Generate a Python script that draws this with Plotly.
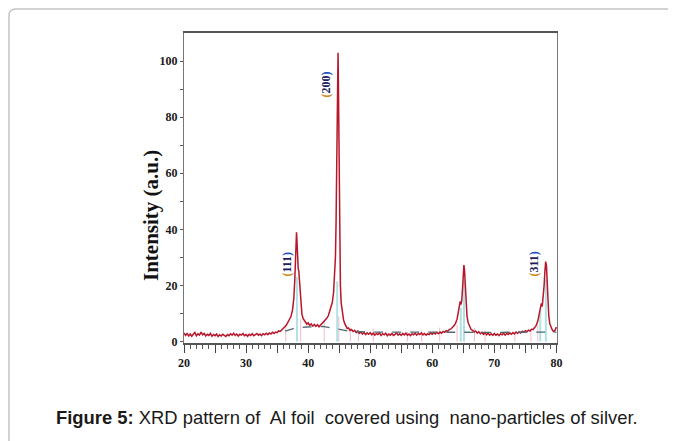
import plotly.graph_objects as go

# ---------------- data ----------------
two_theta = [
    20.0, 20.25, 20.5, 20.75, 21.0, 21.25, 21.5, 21.75, 22.0, 22.25, 22.5, 22.75,
    23.0, 23.25, 23.5, 23.75, 24.0, 24.25, 24.5, 24.75, 25.0, 25.25, 25.5, 25.75,
    26.0, 26.25, 26.5, 26.75, 27.0, 27.25, 27.5, 27.75, 28.0, 28.25, 28.5, 28.75,
    29.0, 29.25, 29.5, 29.75, 30.0, 30.25, 30.5, 30.75, 31.0, 31.25, 31.5, 31.75,
    32.0, 32.25, 32.5, 32.75, 33.0, 33.25, 33.5, 33.75, 34.0, 34.25, 34.5, 34.75,
    35.0, 35.25, 35.5, 35.75, 36.0, 36.25, 36.5, 36.75, 37.0, 37.25, 37.5, 37.7,
    37.85, 37.95, 38.05, 38.13, 38.2, 38.3, 38.4, 38.5, 38.6, 38.7, 38.85, 39.0,
    39.2, 39.4, 39.6, 39.8, 40.0, 40.25, 40.5, 40.75, 41.0, 41.25, 41.5, 41.75,
    42.0, 42.25, 42.5, 42.75, 43.0, 43.25, 43.5, 43.7, 43.9, 44.1, 44.25, 44.4,
    44.5, 44.6, 44.68, 44.75, 44.82, 44.88, 44.95, 45.02, 45.1, 45.2, 45.32, 45.5,
    45.7, 45.9, 46.1, 46.3, 46.5, 46.75, 47.0, 47.25, 47.5, 47.75, 48.0, 48.25,
    48.5, 48.75, 49.0, 49.25, 49.5, 49.75, 50.0, 50.25, 50.5, 50.75, 51.0, 51.25,
    51.5, 51.75, 52.0, 52.25, 52.5, 52.75, 53.0, 53.25, 53.5, 53.75, 54.0, 54.25,
    54.5, 54.75, 55.0, 55.25, 55.5, 55.75, 56.0, 56.25, 56.5, 56.75, 57.0, 57.25,
    57.5, 57.75, 58.0, 58.25, 58.5, 58.75, 59.0, 59.25, 59.5, 59.75, 60.0, 60.25,
    60.5, 60.75, 61.0, 61.25, 61.5, 61.75, 62.0, 62.25, 62.5, 62.75, 63.0, 63.25,
    63.5, 63.75, 64.0, 64.2, 64.35, 64.5, 64.62, 64.75, 64.88, 65.0, 65.1, 65.2,
    65.32, 65.45, 65.6, 65.8, 66.0, 66.25, 66.5, 66.75, 67.0, 67.25, 67.5, 67.75,
    68.0, 68.25, 68.5, 68.75, 69.0, 69.25, 69.5, 69.75, 70.0, 70.25, 70.5, 70.75,
    71.0, 71.25, 71.5, 71.75, 72.0, 72.25, 72.5, 72.75, 73.0, 73.25, 73.5, 73.75,
    74.0, 74.25, 74.5, 74.75, 75.0, 75.25, 75.5, 75.75, 76.0, 76.25, 76.5, 76.75,
    77.0, 77.2, 77.4, 77.58, 77.72, 77.88, 78.02, 78.15, 78.28, 78.4, 78.5, 78.62,
    78.78, 78.95, 79.15, 79.35, 79.55, 79.75, 79.9, 80.0,
]
intensity = [
    3.1, 2.2, 2.9, 2.0, 2.7, 1.9, 2.6, 3.3, 2.1, 2.8, 2.3, 3.4,
    2.4, 2.9, 2.0, 2.6, 2.2, 2.9, 1.9, 2.5, 2.1, 2.7, 1.8, 2.4,
    2.0, 2.6, 2.2, 1.8, 2.5, 2.1, 2.8, 2.3, 3.0, 2.2, 2.7, 2.0,
    2.6, 2.3, 2.9, 2.1, 2.5, 1.9, 2.6, 2.2, 2.8, 2.1, 2.5, 2.9,
    2.3, 2.7, 2.1, 2.8, 2.4, 3.0, 2.5, 3.1, 2.7, 3.3, 2.9, 3.4,
    3.2, 3.8, 3.6, 4.3, 4.6, 5.3, 5.9, 6.8, 7.6, 9.0, 11.5, 15.5,
    22.0, 30.0, 37.0, 39.0, 36.0, 29.0, 26.0, 25.0, 22.0, 17.0, 12.5, 9.8,
    8.2, 7.3, 6.9, 6.2, 6.7, 5.8, 6.3, 5.5, 6.1, 5.4, 6.0, 5.3,
    5.9, 6.4, 7.0, 7.4, 8.3, 9.2, 10.8, 12.4, 14.0, 17.5, 22.0, 30.0,
    42.0, 64.0, 88.0, 102.0, 103.0, 92.0, 68.0, 45.0, 30.0, 20.0, 14.0, 10.0,
    7.8, 6.4, 5.4, 4.7, 4.9, 4.0, 4.3, 3.6, 4.0, 3.2, 3.7, 2.9,
    3.4, 2.7, 3.3, 2.5, 3.1, 2.6, 3.2, 2.4, 3.0, 2.3, 2.9, 2.5,
    3.1, 2.2, 2.8, 2.4, 3.0, 2.1, 2.7, 2.3, 2.9, 2.2, 2.6, 3.1,
    2.3, 2.8, 2.2, 2.9, 2.4, 3.0, 2.3, 2.7, 2.1, 2.8, 2.4, 3.0,
    2.3, 2.9, 2.5, 3.1, 2.4, 2.9, 2.3, 2.8, 2.5, 3.1, 2.6, 3.2,
    2.7, 3.3, 2.8, 3.4, 3.0, 3.6, 3.3, 3.9, 3.7, 4.3, 4.5, 5.0,
    5.6, 6.5, 8.0, 10.5, 13.0, 14.3, 13.2, 14.5, 19.0, 24.5, 27.3, 25.5,
    19.0, 13.0, 9.0, 6.6, 5.3, 4.4, 4.0, 3.4, 3.8, 3.0, 3.5, 2.8,
    3.3, 2.6, 3.1, 2.4, 3.0, 2.3, 2.8, 2.2, 2.9, 2.3, 2.7, 2.1,
    2.8, 2.4, 3.0, 2.3, 2.9, 2.5, 3.1, 2.6, 3.2, 2.7, 3.4, 2.9,
    3.5, 3.1, 3.7, 3.3, 3.9, 3.5, 4.1, 3.8, 4.4, 4.3, 5.0, 5.8,
    7.2, 9.2, 12.0, 13.6, 12.5, 15.5, 20.0, 25.0, 28.5, 27.0, 21.0, 14.0,
    9.0, 6.3, 4.9, 4.1, 3.6, 3.9, 4.6, 5.2,
]

# fitted background (dashed)
bg_theta = [36.3, 37.6, 39.7, 42.4, 44.5, 46.7, 50.0, 60.0, 70.0, 80.0]
bg_int = [3.7, 4.6, 5.2, 5.4, 4.6, 3.7, 3.4, 3.3, 3.3, 3.4]

# reference sticks (Ag / Al phases)
cyan_pos = [38.2, 44.68, 64.6, 65.12, 77.4, 78.3]
cyan_h = [23.0, 21.4, 12.0, 22.0, 11.0, 22.0]
pink_pos = [36.4, 38.8, 42.6, 44.95, 46.8, 48.1, 50.5, 56.0, 58.3, 61.2, 64.0, 66.8, 68.5, 73.3, 75.9, 77.0]
pink_h = [6.0, 8.0, 7.5, 9.0, 5.0, 4.0, 4.5, 3.5, 4.0, 5.0, 6.0, 5.0, 4.0, 3.5, 4.5, 6.0]

# peak labels
peak_labels = ["(111)", "(200)", "(311)"]
label_theta = [36.55, 42.8, 76.35]
label_int = [27.7, 91.5, 27.7]

x_ticks = [20, 25, 30, 35, 40, 45, 50, 55, 60, 65, 70, 75, 80]
x_ticktext = ["20", "", "30", "", "40", "", "50", "", "60", "", "70", "", "80"]
y_ticks = [0, 10, 20, 30, 40, 50, 60, 70, 80, 90, 100]
y_ticktext = ["0", "", "20", "", "40", "", "60", "", "80", "", "100"]

caption = ("<b>Figure 5:</b> XRD pattern of\u00a0 Al foil\u00a0 covered using\u00a0 "
           "nano-particles of silver.")
y_title = "Intensity (a.u.)"


def sticks(pos, h):
    xs, ys = [], []
    for p, v in zip(pos, h):
        xs += [p, p, None]
        ys += [0, v, None]
    return xs, ys


fig = go.Figure()

px_, py_ = sticks(pink_pos, pink_h)
fig.add_trace(go.Scatter(x=px_, y=py_, mode="lines",
                         line=dict(color="rgba(230,120,150,0.5)", width=1),
                         hoverinfo="skip"))
cx_, cy_ = sticks(cyan_pos, cyan_h)
fig.add_trace(go.Scatter(x=cx_, y=cy_, mode="lines",
                         line=dict(color="rgba(150,215,220,0.75)", width=2),
                         hoverinfo="skip"))
fig.add_trace(go.Scatter(x=two_theta, y=intensity, mode="lines",
                         line=dict(color="#b8162a", width=1.5)))
fig.add_trace(go.Scatter(x=bg_theta, y=bg_int, mode="lines",
                         line=dict(color="#4f6a70", width=1.3, dash="dash"),
                         hoverinfo="skip"))

for lab, xv, yv in zip(peak_labels, label_theta, label_int):
    txt = ("<span style='color:#d08a20'>" + lab[0] + "</span>" + lab[1:-1]
           + "<span style='color:#1f4fbf'>" + lab[-1] + "</span>")
    fig.add_annotation(x=xv, y=yv, xref="x", yref="y", text=txt, showarrow=False,
                       textangle=-90,
                       font=dict(family="Liberation Serif", size=12, color="#1a2060",
                                 weight="bold"))

# the page body adds an 8px offset; work in figure pixels (page px - 8)
OFF = 8
W, H = 676 - OFF, 441 - OFF
L, T = 184 - OFF, 33 - OFF
R = W - (557 - OFF)
B = H - (343 - OFF)
pw, ph = W - L - R, H - T - B


def xp(page_x):
    return (page_x - OFF - L) / pw


def yp(page_y):
    return (H - B - (page_y - OFF)) / ph


# y-axis title
fig.add_annotation(x=xp(137), y=yp(216), xref="paper", yref="paper", text=y_title,
                   showarrow=False, textangle=-90,
                   font=dict(family="Liberation Serif", size=21, color="#111",
                             weight="bold"))
# caption
fig.add_annotation(x=xp(347), y=yp(417), xref="paper", yref="paper", text=caption,
                   showarrow=False, xanchor="center", yanchor="middle",
                   font=dict(family="Liberation Sans", size=18.4, color="#1a1a1a"))

# outer rounded frame (only top and left edges visible)
x0, y0 = xp(9), yp(9)
x1, y1 = xp(720), yp(480)
rx, ry = 7 / pw, 7 / ph
fig.add_shape(type="path", xref="paper", yref="paper",
              path=f"M {x0},{y1} L {x0},{y0 - ry} Q {x0},{y0} {x0 + rx},{y0} L {x1},{y0}",
              line=dict(color="#c4c4c4", width=1.5))

tickfont = dict(family="Liberation Serif", size=12, color="#1a1a1a", weight="bold")
fig.update_xaxes(range=[20, 80.1], tickvals=x_ticks, ticktext=x_ticktext,
                 ticks="outside", ticklen=8, tickwidth=1, tickcolor="#444",
                 minor=dict(dtick=1, ticks="outside", ticklen=4, tickcolor="#555"),
                 showline=True, linecolor="#555", linewidth=1.5, mirror=True,
                 showgrid=False, zeroline=False, tickfont=tickfont)
fig.update_yaxes(range=[-0.5, 110], tickvals=y_ticks, ticktext=y_ticktext,
                 ticks="outside", ticklen=3, tickcolor="#555",
                 showline=True, linecolor="#777", linewidth=1.2, mirror=True,
                 showgrid=False, zeroline=False, tickfont=tickfont)

fig.update_layout(width=W, height=H, margin=dict(l=L, r=R, t=T, b=B),
                  paper_bgcolor="white", plot_bgcolor="white", showlegend=False)

fig.write_html("out.html")
